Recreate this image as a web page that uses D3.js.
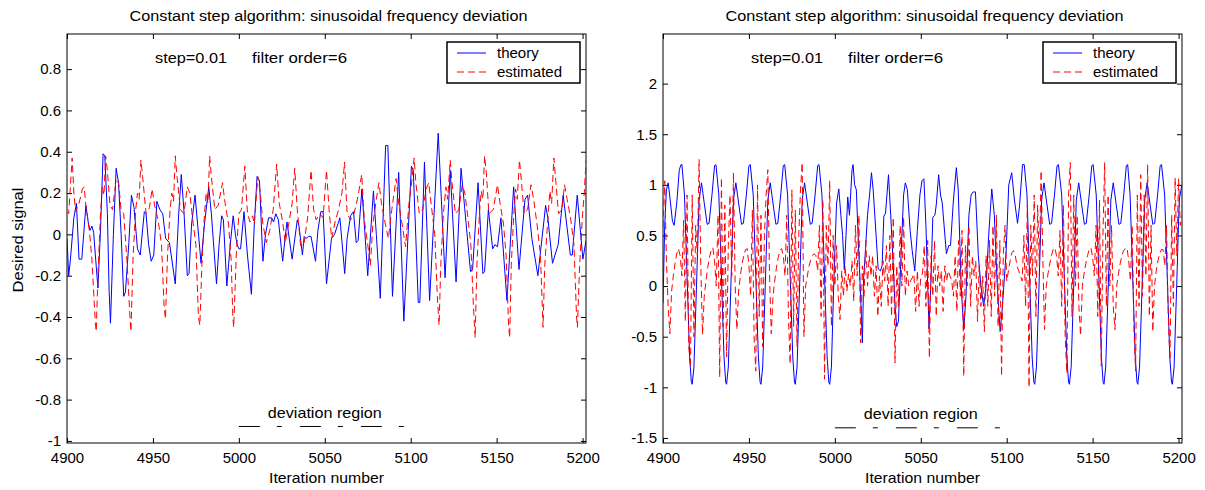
<!DOCTYPE html>
<html lang="en">
  <head>
    <meta charset="UTF-8" />
    <title>Constant step algorithm: sinusoidal frequency deviation</title>
    <script src="https://d3js.org/d3.v7.min.js"></script>
    <style>
      body {
        margin: 0;
        background: #fff;
      }
      svg text {
        font-family: Arial, "Liberation Sans", Helvetica, sans-serif;
        fill: #000;
      }
    </style>
  </head>
  <body>
    <svg id="chart" width="1205" height="490"></svg>

    <script>
      // ---- data ----
      const xTicks = [4900, 4950, 5000, 5050, 5100, 5150, 5200];
      const leftYTicks = [-1, -0.8, -0.6, -0.4, -0.2, 0, 0.2, 0.4, 0.6, 0.8];
      const rightYTicks = [-1.5, -1, -0.5, 0, 0.5, 1, 1.5, 2];
      const seriesNames = ["theory", "estimated"];
      const titleText = "Constant step algorithm: sinusoidal frequency deviation";
      const paramText = ["step=0.01", "filter order=6"];
      const deviationRange = [5000, 5100];

      // left panel, theory (iteration, value)
      const theoryLeft = [
        [4900,-0.02],[4901,-0.2],[4902,-0.12],[4904,0.08],[4905.5,0.15],[4907,-0.12],[4908.6,-0.12],
        [4911,0.14],[4912.5,0.05],[4913.5,0.02],[4914.5,0.04],[4915.5,0.01],[4916.5,-0.1],[4918,-0.26],
        [4919.5,0.02],[4921,0.39],[4922,0.38],[4923.5,0.1],[4924.5,-0.27],[4925.3,-0.43],[4927,0.0],
        [4928.6,0.32],[4930,0.25],[4931.5,0.0],[4933,-0.3],[4934,-0.28],[4936,-0.04],[4937.5,0.19],
        [4939,0.13],[4941,-0.07],[4942.6,-0.1],[4945,0.11],[4946,0.1],[4947.5,-0.05],[4949,-0.13],
        [4950.5,-0.1],[4952.3,0.16],[4954,0.12],[4955.7,0.1],[4957.4,-0.02],[4959.6,-0.04],[4963,-0.24],
        [4965,0.1],[4966.5,0.29],[4968,0.12],[4970,-0.2],[4971,-0.19],[4972.5,0.05],[4974.5,0.19],
        [4976,0.05],[4978,-0.14],[4980,0.05],[4982.5,0.23],[4984,0.1],[4987,-0.24],[4988.5,-0.05],
        [4990,0.09],[4991,0.07],[4993,-0.25],[4995,-0.05],[4996.7,0.09],[4998,0.0],[4999,-0.05],
        [5000,-0.07],[5001,-0.07],[5003,0.11],[5005,-0.1],[5007.3,-0.29],[5009,0.05],[5010.6,0.28],
        [5012,0.26],[5014,-0.13],[5015.5,0.0],[5017.3,0.08],[5019,0.08],[5020.2,0.06],[5021.5,0.1],
        [5023,0.07],[5025.5,-0.13],[5027,-0.01],[5028,0.06],[5031,-0.12],[5034,0.07],[5035,0.04],
        [5037,-0.1],[5038,-0.01],[5039,-0.02],[5040.5,-0.01],[5042,-0.01],[5044.6,-0.13],[5046,0.02],
        [5047.7,0.11],[5049,0.11],[5051,-0.24],[5053.9,-0.02],[5055.7,0.0],[5058.8,0.08],[5061.6,-0.19],
        [5063,-0.02],[5065,0.09],[5066.7,0.11],[5068.3,-0.04],[5069.4,-0.03],[5071.6,0.22],[5075,-0.2],
        [5078.3,0.21],[5080,0.0],[5082.3,-0.31],[5085.4,0.43],[5086.7,0.43],[5089.4,-0.3],[5093,0.3],
        [5096,-0.42],[5100.4,0.33],[5101.5,0.31],[5104.4,-0.33],[5105.3,-0.33],[5108,0.35],[5111,-0.32],
        [5116,0.49],[5120,-0.21],[5123,0.31],[5126.4,-0.23],[5129.3,0.32],[5134.8,-0.18],[5136,-0.17],
        [5139.2,0.25],[5142,-0.19],[5143,-0.18],[5145.2,0.12],[5147.7,-0.07],[5149,-0.05],[5150.5,-0.06],
        [5152.5,0.08],[5156,-0.32],[5159.9,0.23],[5163,-0.17],[5166.5,0.17],[5168,0.19],[5170.5,-0.02],
        [5174,-0.2],[5178.5,0.14],[5179.8,0.08],[5182.5,-0.14],[5185.8,-0.05],[5188.7,0.19],[5192.9,-0.1],
        [5194,-0.1],[5196.9,0.19],[5200.2,-0.12],[5202,-0.03]
      ];

      // left panel, estimated (iteration, value)
      const estimatedLeft = [
        [4900,0.11],[4901,0.1],[4903,0.37],[4904,0.2],[4905,0.11],[4907,0.15],[4909,0.22],[4910,0.23],
        [4911,0.14],[4913,0.02],[4914.5,-0.12],[4916.5,-0.43],[4917,-0.47],[4918,-0.2],[4919.5,0.1],
        [4920.5,0.23],[4921.5,0.19],[4922.5,0.38],[4923.5,0.31],[4925,0.14],[4926.5,0.12],[4928.5,0.26],
        [4930,0.25],[4931.5,0.12],[4933,0.1],[4935,-0.14],[4936.5,-0.38],[4937.2,-0.47],[4938.5,-0.1],
        [4940,0.12],[4941,0.2],[4942,0.17],[4943,0.36],[4944,0.28],[4946,0.1],[4948,0.13],[4949.5,0.22],
        [4951,0.14],[4953,0.07],[4955,-0.05],[4956.5,-0.35],[4957.3,-0.41],[4958.5,-0.1],[4960,0.12],
        [4961,0.2],[4962,0.16],[4963,0.38],[4964,0.28],[4966,0.12],[4968,0.1],[4970,0.23],[4971.5,0.2],
        [4973,0.08],[4975,-0.05],[4976.5,-0.4],[4977.3,-0.44],[4978.5,-0.15],[4980,0.1],[4981,0.2],
        [4982,0.15],[4983,0.38],[4984,0.28],[4986,0.12],[4988,0.14],[4990.5,0.25],[4992,0.15],[4994,0.05],
        [4995.5,-0.12],[4996.5,-0.4],[4997,-0.45],[4998.5,-0.1],[5000,0.1],[5001.5,0.12],[5003.5,0.33],
        [5005,0.1],[5006.5,0.06],[5008,0.09],[5009,0.05],[5011,0.28],[5012.5,0.2],[5014,0.05],[5016,-0.04],
        [5018,0.02],[5020,0.12],[5022,0.34],[5023.5,0.15],[5025.5,0.06],[5027,-0.04],[5029,0.05],[5031,0.15],
        [5032.5,0.32],[5034,0.12],[5036,-0.06],[5038,-0.04],[5040,0.08],[5042,0.31],[5043.5,0.12],[5045,0.07],
        [5047,0.1],[5049,0.08],[5051,0.31],[5052.5,0.12],[5054,-0.02],[5056,0.06],[5058,0.12],[5060,0.2],
        [5061.5,0.35],[5063,0.1],[5065,0.07],[5067,0.1],[5069,0.17],[5071.5,0.29],[5073,0.07],[5075,-0.05],
        [5076.5,-0.15],[5078,0.05],[5080,0.17],[5081.5,0.25],[5083,0.15],[5085,0.06],[5087,-0.02],[5089,0.12],
        [5091.5,0.27],[5093,0.15],[5095,0.05],[5097,-0.06],[5099,0.15],[5100.5,0.25],[5102,0.37],[5103,0.25],
        [5105,0.1],[5107,0.12],[5109,0.22],[5110.5,0.25],[5112,0.14],[5114,0.0],[5115.5,-0.3],[5116.5,-0.44],
        [5117.5,-0.15],[5119,0.1],[5120.5,0.23],[5121.5,0.17],[5123,0.36],[5124,0.25],[5126,0.1],[5128,0.12],
        [5130,0.24],[5131.5,0.2],[5133,0.1],[5135,-0.05],[5136.5,-0.35],[5137.5,-0.5],[5138.5,-0.15],
        [5140,0.1],[5141,0.21],[5142,0.17],[5143,0.38],[5144,0.3],[5145.5,0.1],[5148,0.12],[5150.5,0.24],
        [5152,0.15],[5154,0.05],[5155.5,-0.1],[5157,-0.45],[5157.6,-0.5],[5158.5,-0.15],[5160,0.1],[5161,0.22],
        [5162,0.17],[5163.3,0.36],[5164.5,0.25],[5166,0.1],[5168,0.12],[5170,0.24],[5171.5,0.17],[5173.5,0.05],
        [5175.5,-0.1],[5177,-0.45],[5178,-0.15],[5180,0.1],[5181,0.21],[5182,0.15],[5183.3,0.37],[5184.5,0.25],
        [5186,0.1],[5188,0.12],[5189.5,0.24],[5191,0.17],[5193,0.08],[5195,-0.05],[5196.5,-0.4],[5197,-0.45],
        [5198.3,-0.15],[5200,0.1],[5201,0.2],[5202,0.36]
      ];

      // right panel, theory (iteration, value)
      const theoryRight = [
        [4900,-0.17],[4901,0.6],[4902,0.95],[4903,1.02],[4904,0.88],[4905.5,0.64],[4906.5,0.6],[4908,0.82],
        [4909.5,1.15],[4910.5,1.2],[4911,1.2],
        [4912.5,0.9],[4914,0.1],[4915.5,-0.7],[4916.5,-0.95],[4917,-0.97],[4918,-0.8],[4919.5,0.0],[4921,0.85],
        [4922.4,1.02],[4924,0.82],[4925.7,0.61],[4926.8,0.62],[4928.5,0.9],[4930,1.19],[4930.8,1.2],
        [4932.5,0.9],[4934,0.1],[4935.5,-0.7],[4936.5,-0.95],[4937,-0.97],[4938,-0.8],[4939.5,0.0],[4941,0.85],
        [4942.4,1.02],[4944,0.82],[4945.7,0.61],[4946.8,0.62],[4948.5,0.9],[4950,1.19],[4950.8,1.2],
        [4952.5,0.9],[4954,0.1],[4955.5,-0.7],[4956.5,-0.95],[4957,-0.97],[4958,-0.8],[4959.5,0.0],[4961,0.85],
        [4962.4,1.02],[4964,0.82],[4965.7,0.61],[4966.8,0.62],[4968.5,0.9],[4970,1.19],[4970.8,1.2],
        [4972.5,0.9],[4974,0.1],[4975.5,-0.7],[4976.5,-0.95],[4977,-0.97],[4978,-0.8],[4979.5,0.0],[4981,0.85],
        [4982.4,1.02],[4984,0.82],[4985.7,0.61],[4986.8,0.62],[4988.5,0.9],[4990,1.19],[4990.8,1.2],
        [4992.5,0.9],[4994,0.1],[4995.5,-0.7],[4996.5,-0.95],[4997,-0.97],[4998,-0.8],[4999.5,0.1],[5001,0.82],
        [5002.3,0.96],[5003.5,0.7],[5004.5,0.5],[5005.5,0.16],[5006.5,0.5],[5007.5,0.88],[5008.5,0.7],
        [5010,1.15],[5010.6,1.2],[5011.5,1.0],[5012.5,0.95],[5014,0.3],[5015,-0.1],[5016,-0.56],[5016.8,0.1],
        [5017.5,0.27],[5019,0.7],[5020.3,0.92],[5021.3,1.12],[5022.3,0.95],[5024,0.5],[5025.2,0.17],
        [5026.5,0.15],[5027.5,0.2],[5028.5,0.69],[5029.5,0.72],[5031.2,1.1],[5032.5,0.7],[5034,0.2],
        [5035,-0.2],[5036,-0.4],[5037,-0.35],[5038.5,0.3],[5040,0.9],[5041,1.02],[5042.2,0.95],[5043.8,0.55],
        [5045,0.35],[5046.5,0.15],[5048,0.55],[5049.5,0.9],[5050.7,1.04],[5051.8,1.06],[5053,0.6],
        [5054.8,-0.42],[5055.8,0.0],[5057,0.68],[5058.2,0.7],[5059,0.8],[5060.4,1.1],[5061.5,0.9],
        [5062.5,0.82],[5064.9,0.32],[5066.3,0.4],[5067.3,0.4],[5069,0.85],[5070.7,1.17],[5071.8,0.95],
        [5073.5,0.0],[5075,-0.43],[5076.3,-0.1],[5078,0.7],[5079.3,0.9],[5080.5,0.93],[5081.8,0.93],
        [5083.5,0.3],[5085,0.0],[5086.6,-0.2],[5088,0.0],[5089.5,0.5],[5091.3,0.96],[5092.8,0.7],
        [5094.5,0.0],[5096.2,-0.45],[5097.5,-0.2],[5099.6,0.32],[5101.2,1.0],[5102.9,1.12],[5104.5,0.85],
        [5106.3,0.62],[5107.5,0.8],[5109.2,1.2],[5110.2,1.2],
        [5111.8,0.9],[5113.3,0.1],[5114.8,-0.7],[5115.8,-0.95],[5116.3,-0.97],[5117.3,-0.8],[5118.8,0.0],
        [5120.3,0.85],[5121.7,1.02],[5123.3,0.82],[5125,0.61],[5126.1,0.62],[5127.8,0.9],[5129.3,1.19],[5130.1,1.2],
        [5132,0.9],[5133.5,0.1],[5135,-0.7],[5136,-0.95],[5136.5,-0.97],[5137.5,-0.8],[5139,0.0],
        [5140.5,0.85],[5141.9,1.02],[5143.5,0.82],[5145.2,0.61],[5146.3,0.62],[5148,0.9],[5149.5,1.19],[5150.3,1.2],
        [5152.1,0.9],[5153.6,0.1],[5155.1,-0.7],[5156.1,-0.95],[5156.6,-0.97],[5157.6,-0.8],[5159.1,0.0],
        [5160.6,0.85],[5162,1.02],[5163.6,0.82],[5165.3,0.61],[5166.4,0.62],[5168.1,0.9],[5169.6,1.19],[5170.4,1.2],
        [5171.8,0.9],[5173.3,0.1],[5174.8,-0.7],[5175.8,-0.95],[5176.3,-0.97],[5177.3,-0.8],[5178.8,0.0],
        [5180.3,0.85],[5181.7,1.02],[5183.3,0.82],[5185,0.61],[5186.1,0.62],[5187.8,0.9],[5189.3,1.19],[5190.1,1.2],
        [5191.9,0.9],[5193.4,0.1],[5194.9,-0.7],[5195.9,-0.95],[5196.4,-0.97],[5197.4,-0.8],[5198.9,0.0],
        [5200.4,0.85],[5201.5,0.96],[5202,1.0]
      ];

      // right panel, estimated: one value per iteration starting at 4900
      const estimatedRightStart = 4900;
      const estimatedRight = [
        0.58, 1.04, 0.25, -0.2, -0.47, -0.05, 0.1, 0.22, 0.32, 0.37,
        0.3, 0.1, 0.65, -0.35, 0.9, -0.6, -0.8, 0.9, -0.5, 0.6,
        0.3, 1.25, 0.2, -0.48, -0.1, 0.05, 0.18, 0.28, 0.35, 0.38,
        0.25, 0.0, 0.7, -0.9, 1.07, -0.4, 0.8, -0.7, 0.4, 0.9,
        0.1, 1.12, 0.0, -0.43, -0.05, 0.1, 0.22, 0.3, 0.36, 0.37,
        0.2, -0.1, 0.75, -0.5, -0.84, 1.0, -0.3, 0.7, -0.6, 0.5,
        0.9, 1.15, 0.1, -0.47, -0.1, 0.05, 0.18, 0.28, 0.35, 0.37,
        0.3, 0.1, 0.7, -0.3, -0.77, 0.95, -0.4, 0.75, -0.6, 0.5,
        0.95, 1.22, -0.5, 0.0, 0.1, 0.2, 0.26, 0.3, 0.32, 0.3,
        0.15, 0.6, -0.3, 0.85, -0.92, 0.6, 0.2, 1.04, -0.4, 0.5,
        0.0, 0.4, -0.1, -0.33, 0.15, -0.1, 0.2, -0.05, 0.12, 0.0,
        0.25, -0.15, 0.6, 0.1, 0.7, -0.56, 0.2, -0.1, 0.45, 0.0,
        0.3, 0.1, 0.3, -0.1, 0.2, -0.3, 0.1, -0.2, 0.25, 0.05,
        0.4, -0.2, 0.5, -0.3, 0.68, -0.76, 0.2, -0.2, 0.6, 0.0,
        0.68, -0.1, 0.15, 0.0, 0.05, 0.08, 0.12, -0.25, 0.15, -0.2,
        0.1, 0.12, 0.4, -0.2, 0.45, -0.71, 0.3, -0.1, 0.45, -0.3,
        0.2, 0.0, 0.15, -0.25, 0.2, 0.05, 0.15, 0.1, 0.05, -0.1,
        0.3, -0.25, 0.45, -0.1, 0.55, -0.89, 0.4, 0.0, 0.6, -0.2,
        0.3, 0.1, 0.25, -0.35, 0.2, -0.2, 0.1, -0.45, 0.3, -0.2,
        0.45, -0.3, 0.6, -0.1, 0.7, -0.4, 0.45, -0.89, 0.3, 0.6,
        0.05, 0.15, 0.25, 0.33, 0.35, 0.3, 0.2, 0.15, 0.1, 0.05,
        0.5, -0.2, 0.8, -1.0, 0.6, 0.1, 0.9, -0.3, 0.8, 0.2,
        1.14, 0.3, -0.43, 0.0, 0.12, 0.22, 0.3, 0.36, 0.38, 0.3,
        0.1, 0.55, -0.2, 0.8, -0.5, -0.86, 0.9, 1.22, -0.3, 0.9,
        0.0, 0.7, -0.2, -0.49, 0.0, 0.12, 0.22, 0.3, 0.36, 0.38,
        0.28, 0.1, 0.6, -0.3, 0.85, -0.79, 0.5, 1.22, -0.2, 0.9,
        0.0, 0.6, -0.2, -0.43, 0.0, 0.12, 0.22, 0.3, 0.35, 0.37,
        0.38, 0.25, 0.05, 0.6, -0.4, -0.84, 0.9, -0.2, 1.1, -0.1,
        0.9, 0.1, 1.2, -0.3, 0.6, -0.45, 0.0, 0.15, 0.25, 0.32,
        0.36, 0.36, 0.2, 0.6, -0.3, -0.73, 0.7, -0.2, 1.07, 0.3,
        1.06, 0.6, 0.7
      ];

      const svg = d3.select("#chart");

      // stretch text to the width it has in the reference
      function fitText(sel, width) {
        sel.attr("textLength", width).attr("lengthAdjust", "spacingAndGlyphs");
        return sel;
      }

      function drawPanel(cfg) {
        const top = 34;
        const bottom = 443;
        const x = d3.scaleLinear().domain([4900, 5202]).range([cfg.left, cfg.right]);
        const y = d3.scaleLinear().domain(cfg.yDomain).range([bottom, top]);
        const g = svg.append("g");

        g.append("clipPath")
          .attr("id", cfg.id + "-clip")
          .append("rect")
          .attr("x", cfg.left)
          .attr("y", top)
          .attr("width", cfg.right - cfg.left)
          .attr("height", bottom - top);

        // axes: ticks pointing inwards on all four sides
        const fmt = (d) => String(d);
        g.append("g")
          .attr("transform", `translate(0,${bottom})`)
          .call(d3.axisBottom(x).tickValues(xTicks).tickFormat(fmt).tickSizeInner(-5).tickSizeOuter(0).tickPadding(9))
          .call((a) => a.select(".domain").remove())
          .selectAll("text")
          .style("font-size", "15px");

        g.append("g")
          .attr("transform", `translate(0,${top})`)
          .call(d3.axisTop(x).tickValues(xTicks).tickFormat("").tickSizeInner(-5).tickSizeOuter(0))
          .call((a) => a.select(".domain").remove());

        g.append("g")
          .attr("transform", `translate(${cfg.left},0)`)
          .call(d3.axisLeft(y).tickValues(cfg.yTicks).tickFormat(fmt).tickSizeInner(-5).tickSizeOuter(0).tickPadding(6))
          .call((a) => a.select(".domain").remove())
          .selectAll("text")
          .style("font-size", "15px");

        g.append("g")
          .attr("transform", `translate(${cfg.right},0)`)
          .call(d3.axisRight(y).tickValues(cfg.yTicks).tickFormat("").tickSizeInner(-5).tickSizeOuter(0))
          .call((a) => a.select(".domain").remove());

        g.selectAll(".tick line").attr("stroke", "#000");
        g.selectAll(".tick text").attr("fill", "#000");

        g.append("rect")
          .attr("x", cfg.left)
          .attr("y", top)
          .attr("width", cfg.right - cfg.left)
          .attr("height", bottom - top)
          .attr("fill", "none")
          .attr("stroke", "#000")
          .attr("stroke-width", 1);

        const line = d3
          .line()
          .x((d) => x(d[0]))
          .y((d) => y(d[1]));

        const plot = g.append("g").attr("clip-path", `url(#${cfg.id}-clip)`);

        plot.append("path")
          .datum(cfg.theory)
          .attr("fill", "none")
          .attr("stroke", "#0000ff")
          .attr("stroke-width", 1)
          .attr("d", line);

        plot.append("path")
          .datum(cfg.estimated)
          .attr("fill", "none")
          .attr("stroke", "#ff0000")
          .attr("stroke-width", 1)
          .attr("stroke-dasharray", "7,4")
          .attr("d", line);

        // title and labels
        const cx = (cfg.left + cfg.right) / 2;
        fitText(
          g.append("text")
            .attr("x", cx + 2)
            .attr("y", 21)
            .attr("text-anchor", "middle")
            .style("font-size", "14px")
            .text(titleText),
          398
        );

        fitText(
          g.append("text")
            .attr("x", cx)
            .attr("y", 483)
            .attr("text-anchor", "middle")
            .style("font-size", "15px")
            .text("Iteration number"),
          115
        );

        if (cfg.yLabel) {
          fitText(
            g.append("text")
              .attr("transform", "translate(23,240) rotate(-90)")
              .attr("text-anchor", "middle")
              .style("font-size", "15px")
              .text(cfg.yLabel),
            105
          );
        }

        fitText(
          g.append("text")
            .attr("x", cfg.left + 88)
            .attr("y", 63)
            .style("font-size", "15px")
            .text(paramText[0]),
          72
        );
        fitText(
          g.append("text")
            .attr("x", cfg.left + 185)
            .attr("y", 63)
            .style("font-size", "15px")
            .text(paramText[1]),
          95
        );

        // deviation region marker
        fitText(
          g.append("text")
            .attr("x", x(d3.mean(deviationRange)))
            .attr("y", y(cfg.devTextY))
            .attr("text-anchor", "middle")
            .style("font-size", "15px")
            .text("deviation region"),
          114
        );
        g.append("line")
          .attr("x1", x(deviationRange[0]))
          .attr("x2", x(deviationRange[1]))
          .attr("y1", y(cfg.devLineY))
          .attr("y2", y(cfg.devLineY))
          .attr("stroke", "#000")
          .attr("stroke-width", 1)
          .attr("stroke-dasharray", "21,17,5,18");

        // legend
        const lx = cfg.right - 139;
        const legend = g.append("g").attr("transform", `translate(${lx},42)`);
        legend.append("rect")
          .attr("width", 133)
          .attr("height", 41)
          .attr("fill", "#fff")
          .attr("stroke", "#000")
          .attr("stroke-width", 1.5);
        const styles = [
          { color: "#0000ff", dash: null },
          { color: "#ff0000", dash: "7,4" }
        ];
        seriesNames.forEach((name, i) => {
          legend.append("line")
            .attr("x1", 10)
            .attr("x2", 39)
            .attr("y1", 11 + i * 19)
            .attr("y2", 11 + i * 19)
            .attr("stroke", styles[i].color)
            .attr("stroke-width", 1)
            .attr("stroke-dasharray", styles[i].dash);
          legend.append("text")
            .attr("x", 50)
            .attr("y", 16 + i * 19)
            .style("font-size", "15px")
            .text(name);
        });
      }

      drawPanel({
        id: "left",
        left: 67,
        right: 586,
        yDomain: [-1.01, 0.97],
        yTicks: leftYTicks,
        theory: theoryLeft,
        estimated: estimatedLeft,
        yLabel: "Desired signal",
        devTextY: -0.89,
        devLineY: -0.93
      });

      drawPanel({
        id: "right",
        left: 663,
        right: 1182,
        yDomain: [-1.55, 2.49],
        yTicks: rightYTicks,
        theory: theoryRight,
        estimated: estimatedRight.map((v, i) => [estimatedRightStart + i, v]),
        yLabel: null,
        devTextY: -1.31,
        devLineY: -1.4
      });
    </script>
  </body>
</html>
